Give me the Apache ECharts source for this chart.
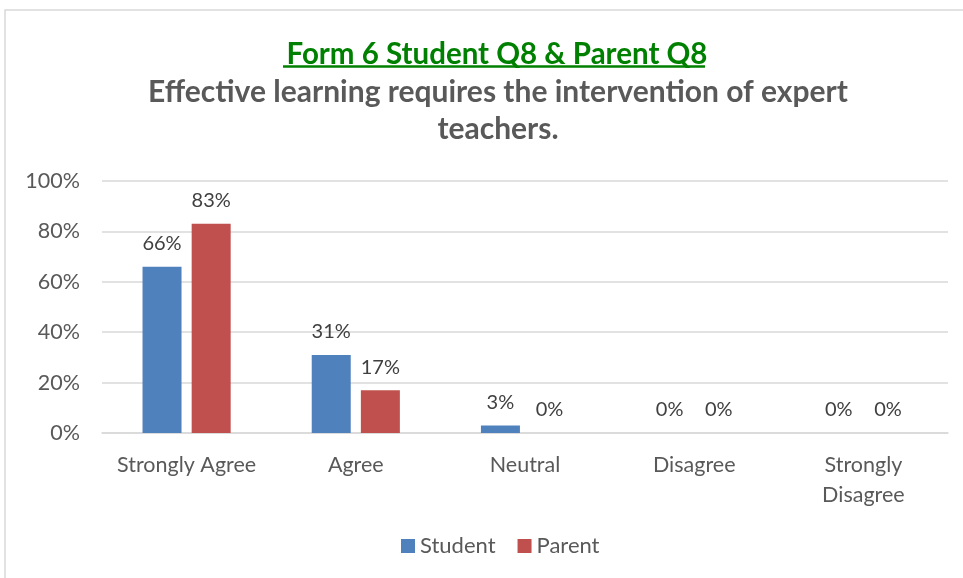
<!DOCTYPE html>
<html>
<head>
<meta charset="utf-8">
<script src="https://cdn.jsdelivr.net/npm/echarts@6/dist/echarts.min.js"></script>
<style>
  html, body { margin: 0; padding: 0; background: #fff; }
  #chart { width: 963px; height: 578px; }
</style>
</head>
<body>
<div id="chart"></div>
<script>
  // chart data
  const categories = ["Strongly Agree", "Agree", "Neutral", "Disagree", "Strongly\nDisagree"];
  const studentValues = [66, 31, 3, 0, 0];
  const parentValues = [83, 17, 0, 0, 0];
  const yTicks = [0, 20, 40, 60, 80, 100];

  const FONT = "Lato, 'Open Sans', sans-serif";
  const myChart = echarts.init(document.getElementById("chart"));

  const labelStyle = {
    show: true,
    position: "top",
    distance: 13,
    color: "#404040",
    fontSize: 20,
    fontFamily: FONT,
    formatter: p => p.value + "%"
  };

  const option = {
    animation: false,
    backgroundColor: "#fff",
    title: [
      {
        text: "Form 6 Student Q8 & Parent Q8",
        left: 492,
        top: 34,
        textAlign: "center",
        textStyle: { color: "#008000", fontSize: 29.5, fontWeight: "bold", fontFamily: FONT }
      },
      {
        text: "Effective learning requires the intervention of expert\nteachers.",
        left: 493,
        top: 69,
        textAlign: "center",
        textStyle: { color: "#595959", fontSize: 30, fontWeight: "bold", fontFamily: FONT, lineHeight: 37 }
      }
    ],
    graphic: [
      {
        type: "rect",
        shape: { x: 5, y: 10, width: 980, height: 600 },
        style: { fill: "none", stroke: "#d9d9d9", lineWidth: 1.5 },
        silent: true
      },
      {
        type: "line",
        shape: { x1: 283, y1: 66.5, x2: 705, y2: 66.5 },
        style: { stroke: "#008000", lineWidth: 2.5 },
        silent: true
      }
    ],
    legend: {
      bottom: 16,
      left: 396,
      itemWidth: 14,
      itemHeight: 14,
      itemGap: 22,
      icon: "rect",
      textStyle: { color: "#595959", fontSize: 22, fontFamily: FONT },
      data: ["Student", "Parent"]
    },
    grid: { left: 102, right: 15, top: 181, bottom: 145 },
    xAxis: {
      type: "category",
      data: categories,
      axisLine: { lineStyle: { color: "#d9d9d9", width: 1.5 } },
      axisTick: { show: false },
      axisLabel: { color: "#595959", fontSize: 21.5, fontFamily: FONT, margin: 17, lineHeight: 30, interval: 0 }
    },
    yAxis: {
      type: "value",
      min: yTicks[0],
      max: yTicks[yTicks.length - 1],
      interval: 20,
      axisLine: { show: false },
      axisTick: { show: false },
      axisLabel: { color: "#595959", fontSize: 21.5, fontFamily: FONT, margin: 22, formatter: v => v + "%" },
      splitLine: { lineStyle: { color: "#d9d9d9", width: 1.5 } }
    },
    series: [
      {
        name: "Student",
        type: "bar",
        data: studentValues,
        barWidth: 39,
        barGap: "26%",
        itemStyle: { color: "#4F81BD" },
        label: labelStyle
      },
      {
        name: "Parent",
        type: "bar",
        data: parentValues,
        barWidth: 39,
        itemStyle: { color: "#C0504D" },
        label: labelStyle
      }
    ]
  };

  myChart.setOption(option);
</script>
</body>
</html>
